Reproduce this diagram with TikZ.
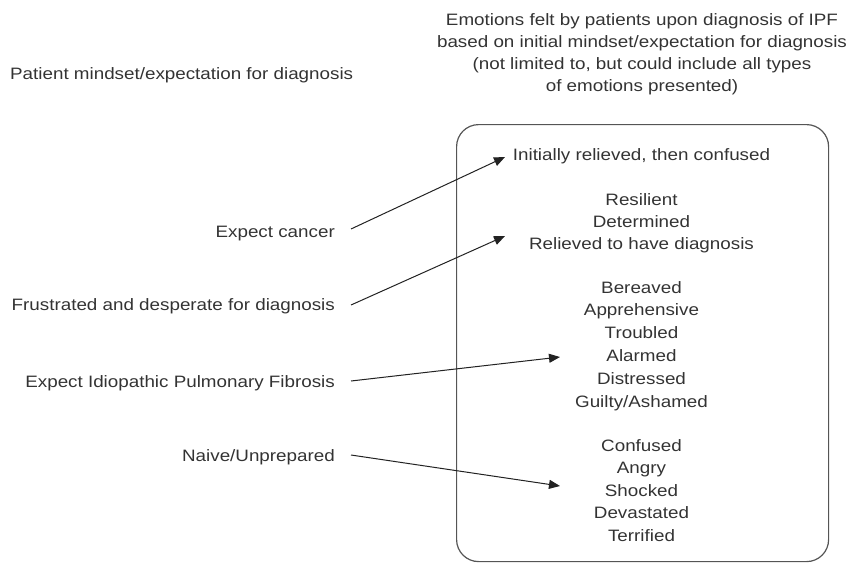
\documentclass[tikz,border=0pt]{standalone}
\usepackage{fontspec}
\setmainfont{Liberation Sans}[FakeStretch=1.14]
\usetikzlibrary{arrows.meta}
\definecolor{txtc}{HTML}{333333}
\definecolor{framec}{HTML}{555555}
\definecolor{arrc}{HTML}{222222}
\begin{document}
\begin{tikzpicture}[x=1pt,y=-1pt,
  txt/.style={text=txtc, inner sep=0pt, font=\fontsize{16.5}{22.5}\selectfont},
  lab/.style={txt, anchor=base east},
  col/.style={txt, align=center, anchor=base},
  arr/.style={draw=arrc, line width=1pt, -{Triangle[length=11pt,width=9pt]}},
  frame/.style={draw=framec, line width=1.2pt, rounded corners=22pt}]
\useasboundingbox (0,0) rectangle (852,563);
% headings (multi-line nodes: base = baseline of last line)
\node[txt, anchor=base west] (hl) at (10,79) {Patient mindset/expectation for diagnosis};
\node[col, font=\fontsize{16.5}{22}\selectfont] (hr) at (642,91)
  {Emotions felt by patients upon diagnosis of IPF\\based on initial mindset/expectation for diagnosis\\(not limited to, but could include all types\\of emotions presented)};
% frame
\node[frame, minimum width=372pt, minimum height=437pt, anchor=north west, inner sep=0pt] (box) at (456,124) {};
% left labels
\node[lab] (l1) at (335,237) {Expect cancer};
\node[lab] (l2) at (335,310) {Frustrated and desperate for diagnosis};
\node[lab] (l3) at (335,387) {Expect Idiopathic Pulmonary Fibrosis};
\node[lab] (l4) at (335,461) {Naive/Unprepared};
% emotion groups
\node[col] (g1) at (641.5,160) {Initially relieved, then confused};
\node[col, font=\fontsize{16.5}{22}\selectfont] (g2) at (641.5,249) {Resilient\\Determined\\Relieved to have diagnosis};
\node[col, font=\fontsize{16.5}{22.8}\selectfont] (g3) at (641.5,407) {Bereaved\\Apprehensive\\Troubled\\Alarmed\\Distressed\\Guilty/Ashamed};
\node[col, font=\fontsize{16.5}{22.5}\selectfont] (g4) at (641.5,541) {Confused\\Angry\\Shocked\\Devastated\\Terrified};
% arrow tips
\coordinate (t1) at (505,157);
\coordinate (t2) at (505,236);
\coordinate (t3) at (560,357);
\coordinate (t4) at (560,486);
\draw[arr] ([shift={(16pt,8pt)}]l1.base east) -- (t1);
\draw[arr] ([shift={(16pt,5pt)}]l2.base east) -- (t2);
\draw[arr] ([shift={(16pt,6pt)}]l3.base east) -- (t3);
\draw[arr] ([shift={(16pt,6pt)}]l4.base east) -- (t4);
\end{tikzpicture}
\end{document}
